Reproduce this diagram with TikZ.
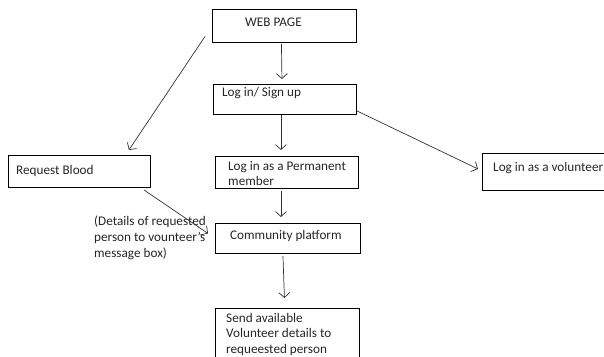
\documentclass[tikz,border=0pt]{standalone}
\usepackage{fontspec}
\setmainfont{Carlito}
\usetikzlibrary{arrows.meta,calc}
\begin{document}
\begin{tikzpicture}[x=1pt,y=-1pt,
  box/.style={draw=black,line width=0.9pt,minimum width=#1,anchor=north west,inner sep=0pt},
  txt/.style={anchor=west,inner sep=0pt,font=\fontsize{13.2}{15.6}\selectfont,align=left,text=black!85},
  arr/.style={draw=black!80,line width=0.7pt,-{Straight Barb[length=5pt,width=11pt]}}]
\useasboundingbox (0,0) rectangle (604,356);
\node[box=144pt,minimum height=33pt] (web) at (212,9) {};
\node[box=143pt,minimum height=30pt] (login) at (213,84) {};
\node[box=143pt,minimum height=32pt] (perm) at (215,156) {};
\node[box=142pt,minimum height=32pt] (req) at (8,155) {};
\node[box=125pt,minimum height=37pt] (vol) at (482,153) {};
\node[box=145pt,minimum height=30pt] (comm) at (215,223) {};
\node[box=144pt,minimum height=60pt] (send) at (215,308) {};
\node[txt] (tweb) at (245,22) {WEB PAGE};
\node[txt] (tlogin) at (222,93) {Log in/ Sign up};
\node[txt,anchor=north west] (tperm) at (228,161) {Log in as a Permanent\\member};
\node[txt] (treq) at (16,171) {Request Blood};
\node[txt] (tvol) at (493,168) {Log in as a volunteer};
\node[txt] (tcomm) at (230,236) {Community platform};
\node[txt,anchor=north west] (tsend) at (226,313) {Send available\\Volunteer details to\\requeested person};
\node[txt,anchor=north west] (tdet) at (94,216) {(Details of requested\\person to vounteer's\\message box)};
\draw[arr] ($(web.south)+(-3,1)$) -- ($(login.north)+(-3,-5)$);
\draw[arr] ($(login.south)+(-4,0)$) -- ($(perm.north)+(-6,-6)$);
\draw[arr] ($(perm.south)+(-6,2)$) -- ($(comm.north)+(-7,-6)$);
\draw[arr] ($(comm.south)+(-5,2)$) -- ($(send.north)+(-3,-10)$);
\draw[arr] ($(web.west)+(-7,10.5)$) -- ($(req.north east)+(-22,-5)$);
\draw[arr] ($(login.south east)+(0,-4)$) -- ($(vol.west)+(-4,-3)$);
\draw[arr] ($(req.south east)+(-7,2)$) -- ($(comm.west)+(-7,-5)$);
\end{tikzpicture}
\end{document}
